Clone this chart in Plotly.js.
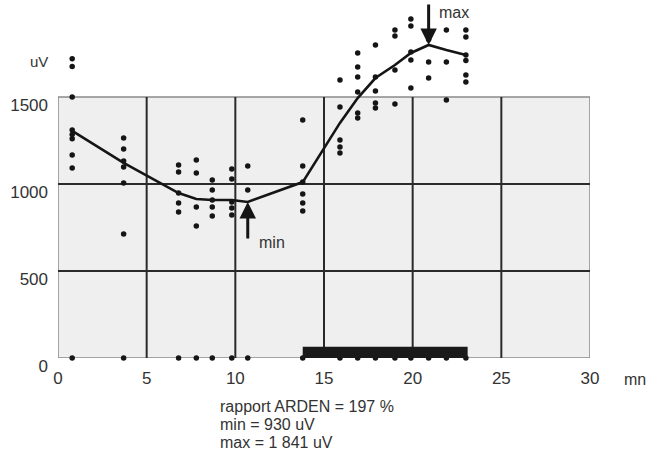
<!DOCTYPE html>
<html>
<head>
<meta charset="utf-8">
<script src="https://cdn.plot.ly/plotly-3.0.1.min.js"></script>
<style>
  html, body { margin: 0; padding: 0; background: #ffffff; }
  #chart { width: 647px; height: 455px; }
</style>
</head>
<body>
<div id="chart"></div>
<script>
// ---- data (time in minutes, amplitude in uV) ----
const sampleTimes = [0.8, 3.7, 6.8, 7.8, 8.7, 9.8, 10.7, 13.8, 15.9, 16.9, 17.9, 19.0, 19.9, 20.9, 21.9, 23.0];
const meanValues  = [1305, 1121, 948, 914, 908, 908, 897, 1011, 1351, 1494, 1609, 1684, 1753, 1799, 1770, 1741];
const readings = [
  [1720, 1675, 1500, 1310, 1285, 1260, 1167, 1092, 0],
  [1264, 1201, 1132, 1098, 1006, 713, 0],
  [1109, 1069, 948, 891, 839, 0],
  [1138, 1063, 868, 759, 0],
  [1023, 966, 908, 868, 816, 0],
  [1086, 1029, 897, 862, 822, 0],
  [1103, 966, 0],
  [1368, 1103, 1011, 943, 891, 845, 0],
  [1598, 1443, 1253, 1213, 1178, 0],
  [1753, 1672, 1615, 1529, 1408, 1379, 0],
  [1799, 1615, 1534, 1466, 1437, 0],
  [1885, 1851, 1655, 1460, 0],
  [1948, 1908, 1759, 1713, 1552, 0],
  [1830, 1701, 1609, 0],
  [1885, 1701, 1483, 0],
  [1885, 1845, 1741, 1710, 1626, 1586, 0]
];
const lightPeriod = [13.8, 23.1];
const xTicks = [0, 5, 10, 15, 20, 25, 30];
const yTicks = [0, 500, 1000, 1500];
const summaryLines = ['rapport ARDEN = 197 %', 'min = 930 uV', 'max = 1 841 uV'];

// ---- build traces ----
const pointTimes = [];
const pointValues = [];
readings.forEach((col, i) => col.forEach(v => { pointTimes.push(sampleTimes[i]); pointValues.push(v); }));

let minIdx = 0, maxIdx = 0;
meanValues.forEach((v, i) => { if (v < meanValues[minIdx]) minIdx = i; if (v > meanValues[maxIdx]) maxIdx = i; });

const FONT = 'Liberation Sans, Arial, sans-serif';
const TXT = '#333333';
const xMin = xTicks[0], xMax = xTicks[xTicks.length - 1];
const yMin = yTicks[0], yMax = yTicks[yTicks.length - 1];

const traces = [
  {
    type: 'scatter', mode: 'markers', x: pointTimes, y: pointValues,
    marker: { size: 5.5, color: '#151515', symbol: 'circle' },
    cliponaxis: false, hoverinfo: 'skip', showlegend: false
  },
  {
    type: 'scatter', mode: 'lines', x: sampleTimes, y: meanValues,
    line: { color: '#151515', width: 2.6 },
    cliponaxis: false, hoverinfo: 'skip', showlegend: false
  }
];

// framed grid box (0..30 min, 0..1500 uV) with grid lines limited to the box
const shapes = [
  { type: 'rect', xref: 'x', yref: 'y', x0: xMin, x1: xMax, y0: yMin, y1: yMax,
    fillcolor: '#efefef', line: { color: '#8a8a8a', width: 1.5 }, layer: 'below' }
];
xTicks.slice(1, -1).forEach(t => {
  shapes.push({ type: 'line', xref: 'x', yref: 'y', x0: t, x1: t, y0: yMin, y1: yMax,
    line: { color: '#2a2a2a', width: 2 }, layer: 'between' });
});
yTicks.slice(1, -1).forEach(t => {
  shapes.push({ type: 'line', xref: 'x', yref: 'y', x0: xMin, x1: xMax, y0: t, y1: t,
    line: { color: '#2a2a2a', width: 2 }, layer: 'between' });
});
shapes.push({ type: 'rect', xref: 'x', yref: 'paper', x0: lightPeriod[0], x1: lightPeriod[1], y0: 0.0, y1: 0.032,
  fillcolor: '#1a1a1a', line: { width: 0 }, layer: 'above' });

const annotations = [
  { xref: 'x', yref: 'y', x: sampleTimes[minIdx], y: meanValues[minIdx], text: '',
    showarrow: true, ax: 0, ay: 38, arrowhead: 2, arrowsize: 1.1, arrowwidth: 3, arrowcolor: '#151515', standoff: 0 },
  { xref: 'x', yref: 'y', x: sampleTimes[minIdx], y: meanValues[minIdx], text: 'min',
    showarrow: false, xanchor: 'left', yanchor: 'middle', xshift: 9, yshift: -41,
    font: { family: FONT, size: 16, color: TXT } },
  { xref: 'x', yref: 'y', x: sampleTimes[maxIdx], y: meanValues[maxIdx], text: '',
    showarrow: true, ax: 0, ay: -42, arrowhead: 2, arrowsize: 1.1, arrowwidth: 3, arrowcolor: '#151515', standoff: 0 },
  { xref: 'x', yref: 'y', x: sampleTimes[maxIdx], y: meanValues[maxIdx], text: 'max',
    showarrow: false, xanchor: 'left', yanchor: 'middle', xshift: 8, yshift: 32,
    font: { family: FONT, size: 16, color: TXT } },
  { xref: 'paper', yref: 'paper', x: -0.036, y: 0.851, text: 'uV', showarrow: false,
    xanchor: 'center', yanchor: 'middle', font: { family: FONT, size: 15, color: TXT } },
  { xref: 'paper', yref: 'paper', x: 1.085, y: -0.063, text: 'mn', showarrow: false,
    xanchor: 'center', yanchor: 'middle', font: { family: FONT, size: 16, color: TXT } }
];
summaryLines.forEach((t, i) => {
  annotations.push({ xref: 'paper', yref: 'paper', x: 0.300, y: -0.1408 - i * 0.0517, text: t,
    showarrow: false, xanchor: 'left', yanchor: 'middle', font: { family: FONT, size: 16, color: TXT } });
});

const layout = {
  width: 647, height: 455,
  margin: { l: 58, r: 57, t: 10, b: 97 },
  paper_bgcolor: '#ffffff',
  plot_bgcolor: '#ffffff',
  showlegend: false,
  font: { family: FONT, size: 17, color: TXT },
  xaxis: {
    range: [xMin, xMax], tickvals: xTicks, ticktext: xTicks.map(String),
    showgrid: false, zeroline: false, showline: false,
    ticks: '', ticklabelstandoff: 8, fixedrange: true
  },
  yaxis: {
    range: [yMin, 2000], tickvals: yTicks, ticktext: yTicks.map(String),
    showgrid: false, zeroline: false, showline: false,
    ticks: '', ticklabelstandoff: 9, ticklabelshift: 8, fixedrange: true
  },
  shapes: shapes,
  annotations: annotations
};

Plotly.newPlot('chart', traces, layout, { staticPlot: true, displayModeBar: false });
</script>
</body>
</html>
